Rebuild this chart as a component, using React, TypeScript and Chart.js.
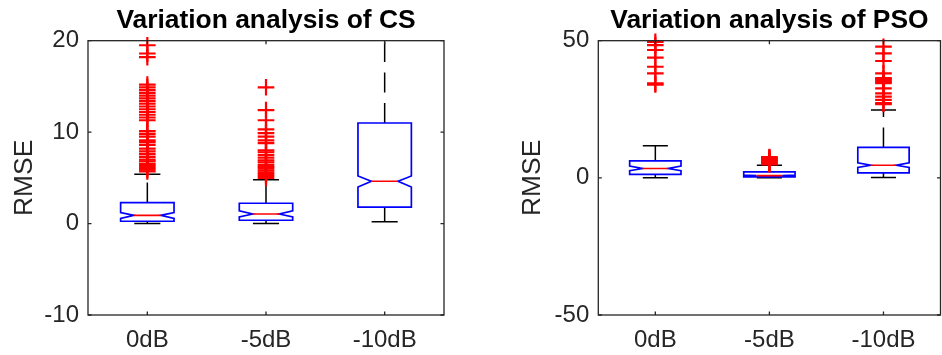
import React, { useEffect, useRef } from 'react';
import { Chart, registerables } from 'chart.js';

Chart.register(...registerables);

const FONT = '"Liberation Sans", Arial, Helvetica, sans-serif';
const AXIS_COLOR = '#262626';

const categories = ['0dB', '-5dB', '-10dB'];

// CS: RMSE distribution per SNR level
const csQ1 = [0.25, 0.36, 1.8];
const csMedian = [0.9, 1.05, 4.63];
const csQ3 = [2.3, 2.22, 11.0];
const csNotchLow = [0.55, 0.72, 4.0];
const csNotchHigh = [1.2, 1.4, 5.2];
const csWhiskerLow = [0, 0, 0.2];
const csWhiskerHigh = [5.4, 4.8, 26.5];
const csOutliers0dB = [
  5.7, 5.9, 6.1, 6.3, 6.5, 6.8, 7.0, 7.3, 7.6, 7.9, 8.2, 8.6, 8.9, 9.1, 9.5, 9.8, 10.1,
  11.3, 11.6, 11.9, 12.2, 12.5, 12.8, 13.1, 13.4, 13.7, 14.0, 14.3, 14.6, 14.9, 15.2,
  18.2, 18.6, 19.5,
];
const csOutliers5dB = [
  5.0, 5.2, 5.4, 5.6, 5.8, 6.0, 6.2, 6.4, 6.7, 6.9, 7.2, 7.5, 7.8, 8.0, 8.8, 9.1, 9.5,
  9.9, 10.3, 11.3, 12.4, 14.9,
];
const csOutliers10dB: number[] = [];
const csMin = -10;
const csMax = 20;
const csStep = 10;

// PSO: RMSE distribution per SNR level
const psoQ1 = [1.24, 0.35, 1.8];
const psoMedian = [3.4, 0.8, 4.6];
const psoQ3 = [6.2, 2.2, 11.1];
const psoNotchLow = [2.6, 0.6, 3.8];
const psoNotchHigh = [4.3, 1.0, 5.5];
const psoWhiskerLow = [0, 0, 0.1];
const psoWhiskerHigh = [11.7, 4.6, 24.7];
const psoOutliers0dB = [34.0, 34.4, 38.1, 40.5, 43.8, 46.6, 48.4, 49.6];
const psoOutliers5dB = [4.9, 5.2, 5.5, 5.8, 6.1, 6.4, 6.7, 7.0, 7.3, 7.6];
const psoOutliers10dB = [
  26.9, 27.2, 28.4, 29.6, 30.8, 32.6, 34.5, 35.0, 35.5, 36.0, 36.4, 38.1, 42.6, 45.4, 47.8,
];
const psoMin = -50;
const psoMax = 50;
const psoStep = 50;

type BoxStats = {
  q1: number[];
  median: number[];
  q3: number[];
  notchLow: number[];
  notchHigh: number[];
  whiskerLow: number[];
  whiskerHigh: number[];
};

type PanelProps = {
  title: string;
  stats: BoxStats;
  outliers: number[][];
  yMin: number;
  yMax: number;
  yStep: number;
  canvasWidth: number;
  axisWidth: number;
  padRight: number;
  labelPad: number;
  left: number;
};

function Panel(props: PanelProps) {
  const ref = useRef<HTMLCanvasElement | null>(null);

  useEffect(() => {
    const canvas = ref.current;
    if (!canvas) return;
    const { stats } = props;

    // Notched boxes with dashed whiskers, drawn below the outlier markers
    const boxPlugin = {
      id: 'notchedBoxes',
      beforeDatasetsDraw(chart: any) {
        const ctx = chart.ctx as CanvasRenderingContext2D;
        const xs = chart.scales.x;
        const ys = chart.scales.y;
        const area = chart.chartArea;
        const unit = xs.getPixelForValue(1) - xs.getPixelForValue(0);
        const hw = unit * 0.225;
        const capHw = unit * 0.11;
        ctx.save();
        ctx.beginPath();
        ctx.rect(area.left, area.top, area.right - area.left, area.bottom - area.top);
        ctx.clip();
        for (let i = 0; i < categories.length; i++) {
          const cx = xs.getPixelForValue(i);
          const yQ1 = ys.getPixelForValue(stats.q1[i]);
          const yQ3 = ys.getPixelForValue(stats.q3[i]);
          const yMed = ys.getPixelForValue(stats.median[i]);
          const yNLo = ys.getPixelForValue(stats.notchLow[i]);
          const yNHi = ys.getPixelForValue(stats.notchHigh[i]);
          const yWLo = ys.getPixelForValue(stats.whiskerLow[i]);
          const yWHi = ys.getPixelForValue(stats.whiskerHigh[i]);

          // whiskers
          ctx.strokeStyle = '#000000';
          ctx.lineWidth = 1.5;
          ctx.setLineDash([20, 10.5]);
          ctx.beginPath();
          ctx.moveTo(cx, yQ3);
          ctx.lineTo(cx, yWHi);
          ctx.stroke();
          ctx.beginPath();
          ctx.moveTo(cx, yQ1);
          ctx.lineTo(cx, yWLo);
          ctx.stroke();
          ctx.setLineDash([]);
          ctx.beginPath();
          ctx.moveTo(cx - capHw, yWHi);
          ctx.lineTo(cx + capHw, yWHi);
          ctx.moveTo(cx - capHw, yWLo);
          ctx.lineTo(cx + capHw, yWLo);
          ctx.stroke();

          // notched box
          ctx.strokeStyle = '#0000ff';
          ctx.lineWidth = 1.7;
          ctx.beginPath();
          ctx.moveTo(cx - hw, yQ3);
          ctx.lineTo(cx + hw, yQ3);
          ctx.lineTo(cx + hw, yNHi);
          ctx.lineTo(cx + hw / 2, yMed);
          ctx.lineTo(cx + hw, yNLo);
          ctx.lineTo(cx + hw, yQ1);
          ctx.lineTo(cx - hw, yQ1);
          ctx.lineTo(cx - hw, yNLo);
          ctx.lineTo(cx - hw / 2, yMed);
          ctx.lineTo(cx - hw, yNHi);
          ctx.closePath();
          ctx.stroke();

          // median
          ctx.strokeStyle = '#ff0000';
          ctx.lineWidth = 1.6;
          ctx.beginPath();
          ctx.moveTo(cx - hw / 2, yMed);
          ctx.lineTo(cx + hw / 2, yMed);
          ctx.stroke();
        }
        ctx.restore();
      },
    };

    // Axes box with inward tick marks on all four sides
    const framePlugin = {
      id: 'axesFrame',
      afterDraw(chart: any) {
        const ctx = chart.ctx as CanvasRenderingContext2D;
        const xs = chart.scales.x;
        const ys = chart.scales.y;
        const a = chart.chartArea;
        const tl = 3.5;
        ctx.save();
        ctx.strokeStyle = AXIS_COLOR;
        ctx.lineWidth = 1.3;
        ctx.strokeRect(a.left, a.top, a.right - a.left, a.bottom - a.top);
        ctx.beginPath();
        xs.ticks.forEach((_t: any, i: number) => {
          const px = xs.getPixelForTick(i);
          ctx.moveTo(px, a.bottom);
          ctx.lineTo(px, a.bottom - tl);
          ctx.moveTo(px, a.top);
          ctx.lineTo(px, a.top + tl);
        });
        ys.ticks.forEach((t: any) => {
          const py = ys.getPixelForValue(t.value);
          ctx.moveTo(a.left, py);
          ctx.lineTo(a.left + tl, py);
          ctx.moveTo(a.right, py);
          ctx.lineTo(a.right - tl, py);
        });
        ctx.stroke();
        ctx.restore();
      },
    };

    const points = props.outliers.flatMap((vals, i) =>
      vals.map((v) => ({ x: categories[i], y: v }))
    );

    const chart = new Chart(canvas, {
      type: 'scatter',
      data: {
        labels: categories,
        datasets: [
          {
            data: points as any,
            pointStyle: 'cross',
            pointRadius: 8.3,
            pointBorderWidth: 2.2,
            borderWidth: 2.2,
            pointBorderColor: '#ff0000',
            borderColor: '#ff0000',
            backgroundColor: '#ff0000',
            clip: false as any,
          },
        ],
      },
      options: {
        responsive: false,
        animation: false,
        events: [],
        layout: { padding: { left: 0, right: props.padRight, top: 0, bottom: 0 } },
        plugins: {
          legend: { display: false },
          tooltip: { enabled: false },
          title: {
            display: true,
            text: props.title,
            fullSize: false,
            color: '#000000',
            font: { family: FONT, size: 26.4, weight: 'bold' },
            padding: { top: 4.7, bottom: 4.3 },
          },
        },
        scales: {
          x: {
            type: 'category',
            offset: true,
            grid: { display: false, drawTicks: false },
            border: { display: false },
            ticks: {
              color: AXIS_COLOR,
              font: { family: FONT, size: 24 },
              padding: 11,
              maxRotation: 0,
              autoSkip: false,
            },
            afterFit: (s: any) => {
              s.height = 40;
            },
          },
          y: {
            type: 'linear',
            min: props.yMin,
            max: props.yMax,
            grid: { display: false, drawTicks: false },
            border: { display: false },
            ticks: {
              stepSize: props.yStep,
              color: AXIS_COLOR,
              font: { family: FONT, size: 24 },
              padding: 9,
            },
            title: {
              display: true,
              text: 'RMSE',
              color: AXIS_COLOR,
              font: { family: FONT, size: 26.4 },
              padding: { top: props.labelPad, bottom: 0 },
            },
            afterFit: (s: any) => {
              s.width = props.axisWidth;
            },
          },
        },
      } as any,
      plugins: [boxPlugin, framePlugin],
    });
    return () => chart.destroy();
  }, []);

  return (
    <canvas
      ref={ref}
      width={props.canvasWidth}
      height={355}
      style={{
        position: 'absolute',
        left: props.left,
        top: 0,
        width: props.canvasWidth,
        height: 355,
      }}
    />
  );
}

export default function App() {
  const csStats: BoxStats = {
    q1: csQ1,
    median: csMedian,
    q3: csQ3,
    notchLow: csNotchLow,
    notchHigh: csNotchHigh,
    whiskerLow: csWhiskerLow,
    whiskerHigh: csWhiskerHigh,
  };
  const psoStats: BoxStats = {
    q1: psoQ1,
    median: psoMedian,
    q3: psoQ3,
    notchLow: psoNotchLow,
    notchHigh: psoNotchHigh,
    whiskerLow: psoWhiskerLow,
    whiskerHigh: psoWhiskerHigh,
  };
  return (
    <div
      style={{
        position: 'absolute',
        left: 0,
        top: 0,
        width: 942,
        height: 355,
        overflow: 'hidden',
        background: '#ffffff',
      }}
    >
      <Panel
        title="Variation analysis of CS"
        stats={csStats}
        outliers={[csOutliers0dB, csOutliers5dB, csOutliers10dB]}
        yMin={csMin}
        yMax={csMax}
        yStep={csStep}
        canvasWidth={471}
        axisWidth={88}
        padRight={27}
        labelPad={9.2}
        left={0}
      />
      <Panel
        title="Variation analysis of PSO"
        stats={psoStats}
        outliers={[psoOutliers0dB, psoOutliers5dB, psoOutliers10dB]}
        yMin={psoMin}
        yMax={psoMax}
        yStep={psoStep}
        canvasWidth={480}
        axisWidth={127.3}
        padRight={6.2}
        labelPad={46.2}
        left={471}
      />
    </div>
  );
}
